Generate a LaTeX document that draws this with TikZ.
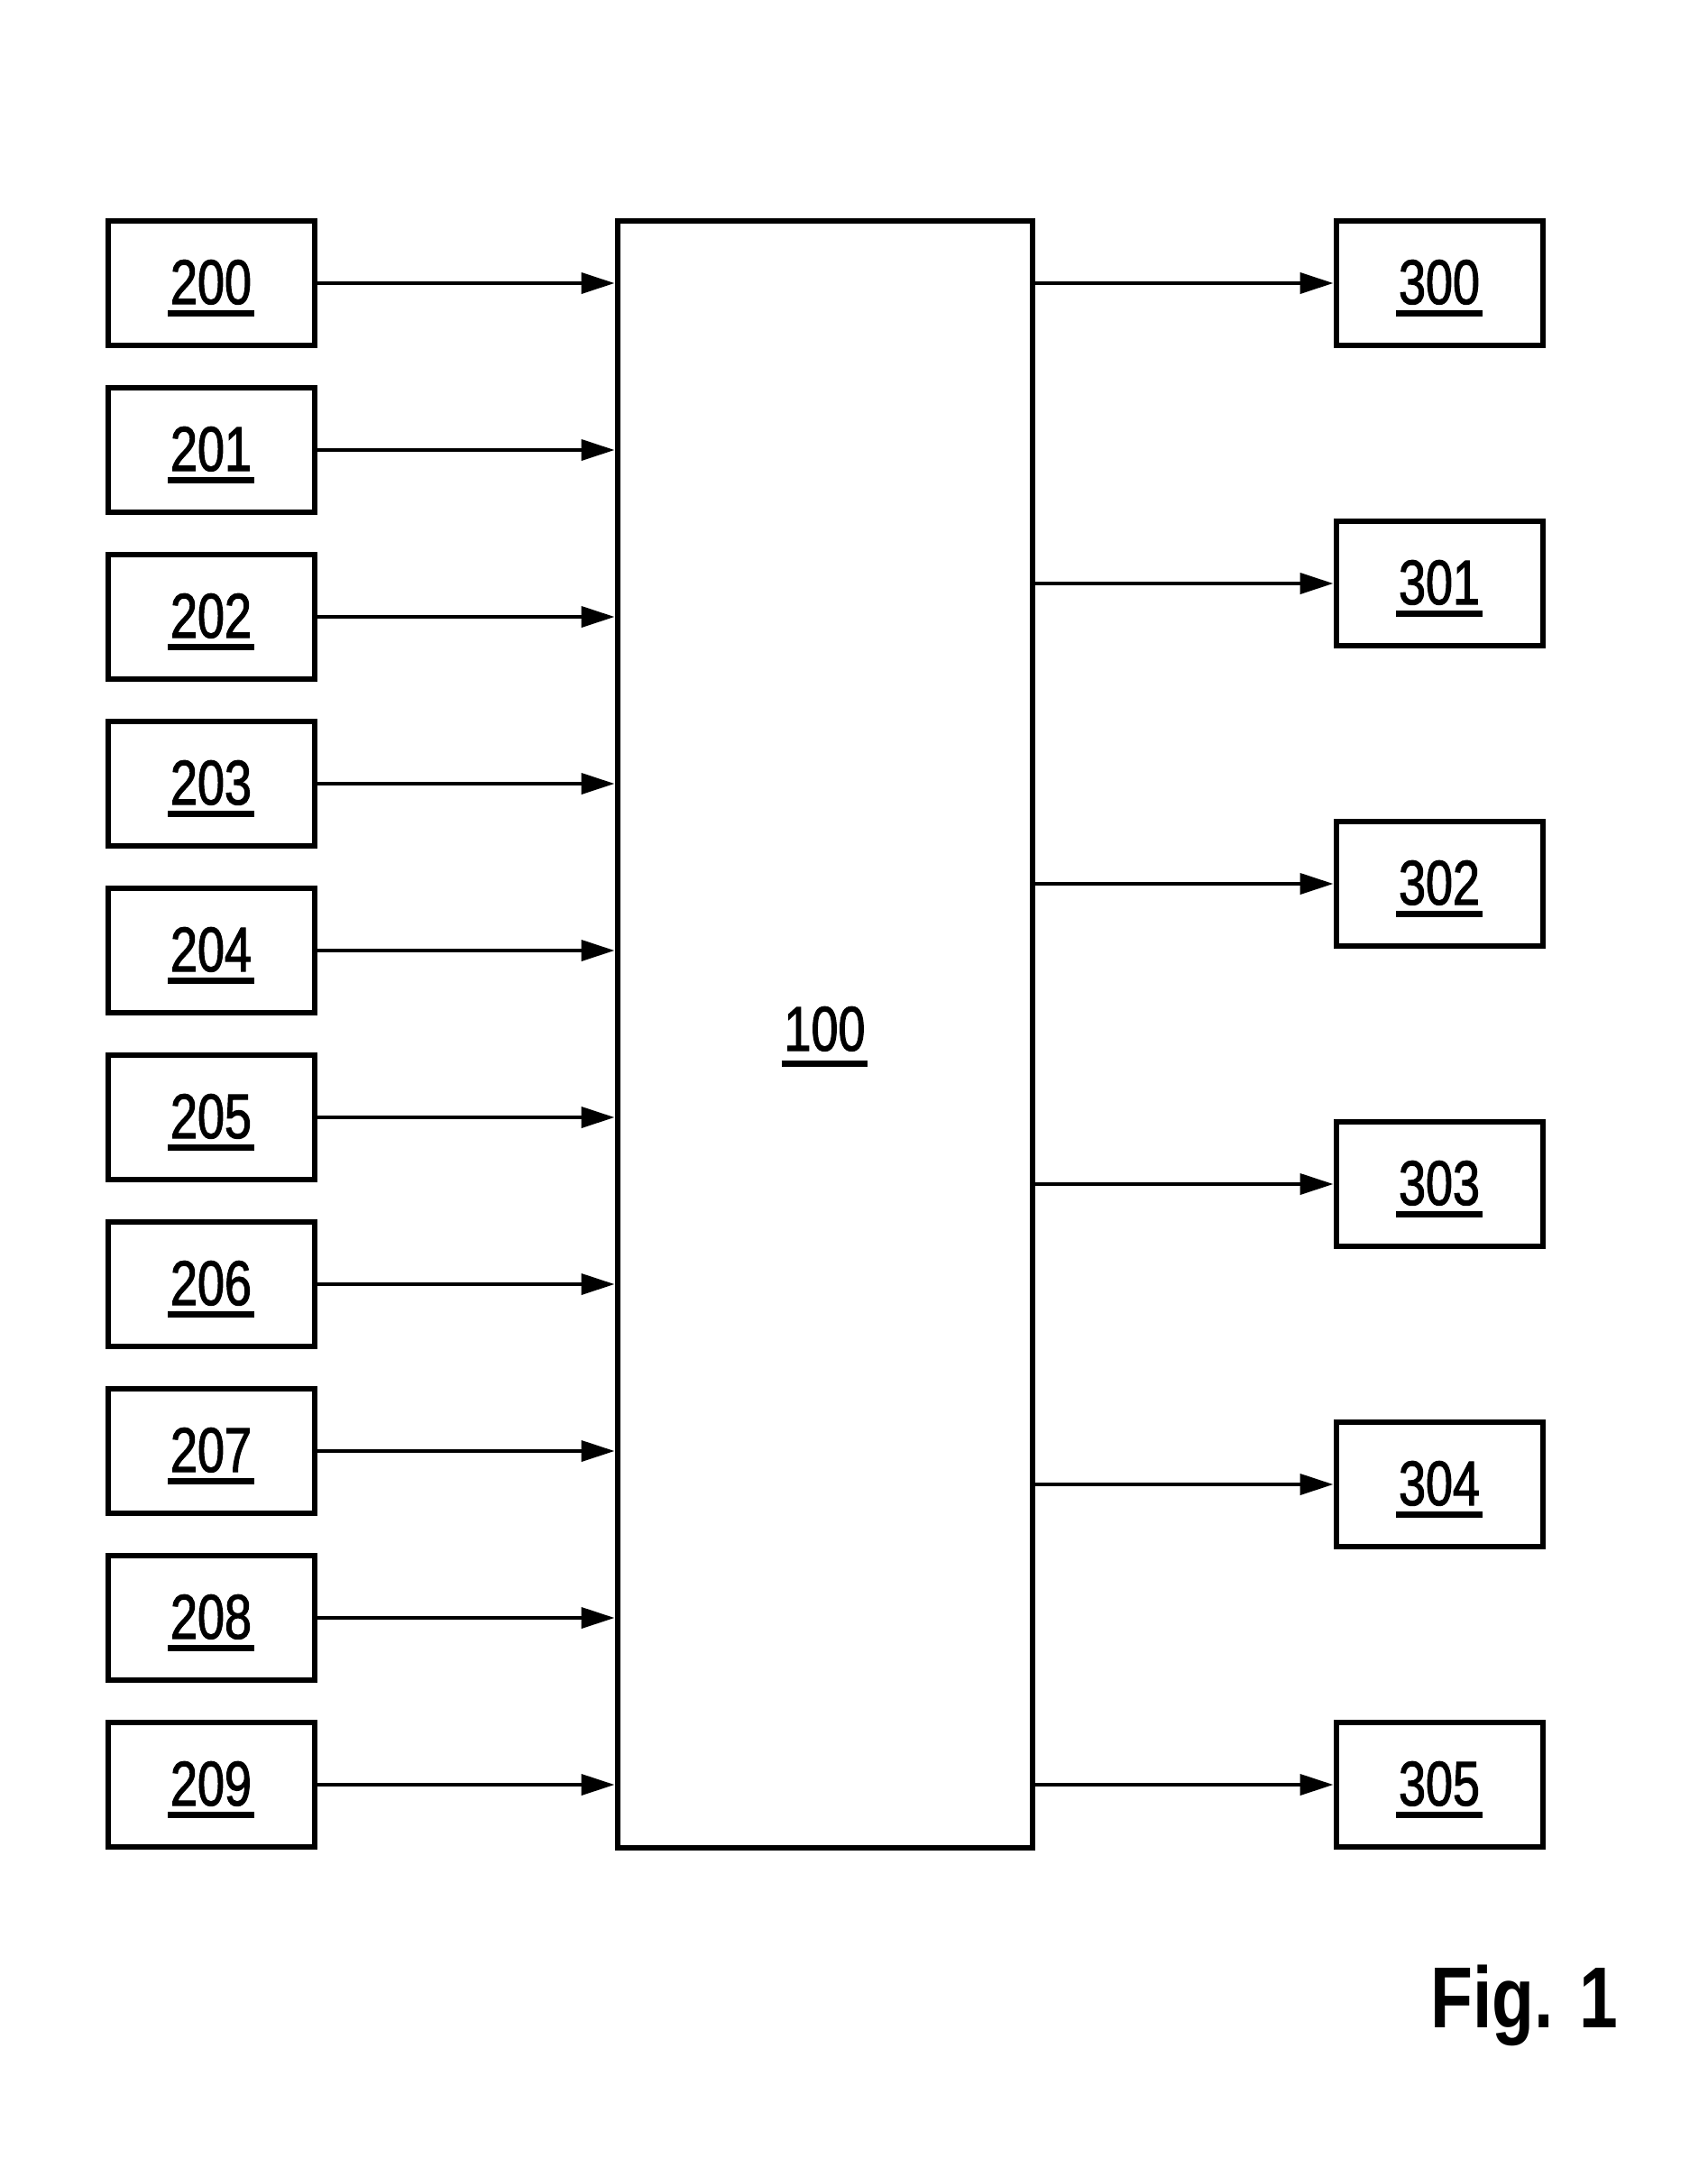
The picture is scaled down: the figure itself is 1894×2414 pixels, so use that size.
\documentclass[tikz,border=0pt]{standalone}
\usepackage{fontspec}
\newfontfamily\numfont{Liberation Sans}[FakeStretch=0.77,FakeBold=1.5]
\newfontfamily\figfont{Liberation Sans}[FakeStretch=0.8]
\usetikzlibrary{arrows.meta}
\newcommand\ulnum[2][-6.8pt]{\setbox0=\hbox{#2}\rlap{\kern-1.5pt\rule[#1]{\dimexpr\wd0+3pt\relax}{3.3pt}}\box0}
\tikzset{
  blk/.style={draw, line width=3pt, minimum width=114.5pt, minimum height=69pt,
    inner sep=0pt, font=\numfont\fontsize{35pt}{35pt}\selectfont, text height=25pt, text depth=2pt},
  bigblk/.style={draw, line width=3pt, minimum width=230pt, minimum height=902pt,
    inner sep=0pt, font=\numfont\fontsize{35pt}{35pt}\selectfont, text height=25pt, text depth=6.5pt},
  conn/.style={line width=2pt, -{Triangle[length=18.5pt,width=11.5pt]}}
}
\begin{document}
\begin{tikzpicture}[x=0.5pt,y=-0.5pt]
\useasboundingbox (0,0) rectangle (1894,2414);
\node[bigblk] (b100) at (914.5,1146.5) {\ulnum[-9pt]{100}};
\foreach \i in {0,...,9} {
  \node[blk] (b20\i) at (234,{314+185*\i}) {\ulnum{20\i}};
  \draw[conn] (b20\i.east) -- (b20\i.east -| b100.west);
}
\foreach \i in {0,...,5} {
  \node[blk] (b30\i) at (1596,{314+333*\i}) {\ulnum{30\i}};
  \draw[conn] (b30\i.west -| b100.east) -- (b30\i.west);
}
\node[anchor=base west, inner sep=0pt, font=\figfont\bfseries\fontsize{48pt}{48pt}\selectfont] (fig) at (1586,2248) {Fig. 1};
\end{tikzpicture}
\end{document}
